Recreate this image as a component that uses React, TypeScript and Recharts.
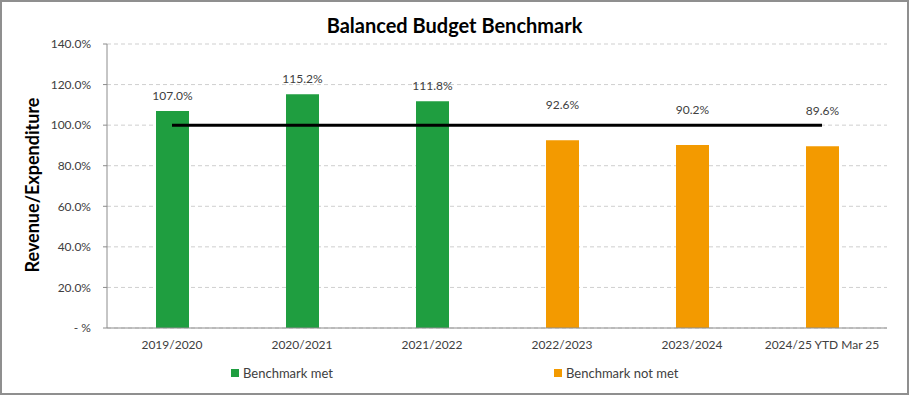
import React from 'react';
import {
  Bar,
  CartesianGrid,
  ComposedChart,
  LabelList,
  Line,
  XAxis,
  YAxis,
} from 'recharts';

const periods = ['2019/2020', '2020/2021', '2021/2022', '2022/2023', '2023/2024', '2024/25 YTD Mar 25'];
const metValues = [107.0, 115.2, 111.8, null, null, null];
const notMetValues = [null, null, null, 92.6, 90.2, 89.6];
const benchmark = [100, 100, 100, 100, 100, 100];
const yTicks = [0, 20, 40, 60, 80, 100, 120, 140];

const GREEN = '#1f9e40';
const ORANGE = '#f39a00';
const FONT = 'Lato, "Open Sans", sans-serif';
const TEXT = '#404040';

const data = periods.map((p, i) => ({
  period: p,
  met: metValues[i],
  notMet: notMetValues[i],
  benchmark: benchmark[i],
}));

const fmtTick = (v: number) => (v === 0 ? '-  %' : `${v.toFixed(1)}%`);

// labels sit a little higher over the orange bars so they clear the benchmark line
const makeLabel = (lift: number) => (props: any) => {
  const { x, y, width, value } = props;
  if (value == null) return null;
  return (
    <text x={x + width / 2} y={y - lift} textAnchor="middle" fontSize={12} fill={TEXT} fontFamily={FONT}>
      {`${Number(value).toFixed(1)}%`}
    </text>
  );
};

function LegendItem({ color, label }: { color: string; label: string }) {
  return (
    <div style={{ display: 'flex', alignItems: 'center', fontSize: 13, color: TEXT }}>
      <span style={{ width: 8, height: 8, background: color, marginRight: 4, display: 'inline-block' }} />
      {label}
    </div>
  );
}

export default function App() {
  return (
    <div style={{ position: 'absolute', left: 0, top: 0, width: 909, height: 395, background: '#fff', fontFamily: FONT }}>
      <ComposedChart
        width={909}
        height={395}
        data={data}
        margin={{ top: 44, right: 22, bottom: 37, left: 0 }}
      >
        <CartesianGrid vertical={false} stroke="#cfcfcf" strokeDasharray="4 3" />
        <XAxis
          dataKey="period"
          tickLine={false}
          axisLine={{ stroke: '#8c8c8c' }}
          tick={{ fontSize: 12, fill: TEXT, fontFamily: FONT }}
          tickMargin={6}
          interval={0}
        />
        <YAxis
          width={107}
          domain={[0, 140]}
          ticks={yTicks}
          tickFormatter={fmtTick}
          tick={{ fontSize: 12, fill: TEXT, fontFamily: FONT }}
          tickSize={4}
          tickLine={{ stroke: '#8c8c8c' }}
          axisLine={{ stroke: '#8c8c8c' }}
          tickMargin={12}
        />
        <Bar dataKey="met" stackId="a" fill={GREEN} barSize={33} isAnimationActive={false}>
          <LabelList dataKey="met" content={makeLabel(11)} />
        </Bar>
        <Bar dataKey="notMet" stackId="a" fill={ORANGE} barSize={33} isAnimationActive={false}>
          <LabelList dataKey="notMet" content={makeLabel(31)} />
        </Bar>
        <Line
          dataKey="benchmark"
          stroke="#000"
          strokeWidth={3}
          dot={false}
          activeDot={false}
          isAnimationActive={false}
        />
      </ComposedChart>

      <div
        style={{
          position: 'absolute', left: 0, top: 13, width: 909, textAlign: 'center',
          fontSize: 20, fontWeight: 700, color: '#000',
        }}
      >
        Balanced Budget Benchmark
      </div>
      <div
        style={{
          position: 'absolute', left: 32, top: 185, transform: 'translate(-50%, -50%) rotate(-90deg)',
          whiteSpace: 'nowrap', fontSize: 18, fontWeight: 700, color: '#000',
        }}
      >
        Revenue/Expenditure
      </div>
      <div style={{ position: 'absolute', left: 231, top: 365 }}>
        <LegendItem color={GREEN} label="Benchmark met" />
      </div>
      <div style={{ position: 'absolute', left: 554, top: 365 }}>
        <LegendItem color={ORANGE} label="Benchmark not met" />
      </div>
      <div
        style={{
          position: 'absolute', left: 0, top: 0, width: 909, height: 395,
          border: '2px solid #8f8f8f', boxSizing: 'border-box', pointerEvents: 'none',
        }}
      />
    </div>
  );
}
